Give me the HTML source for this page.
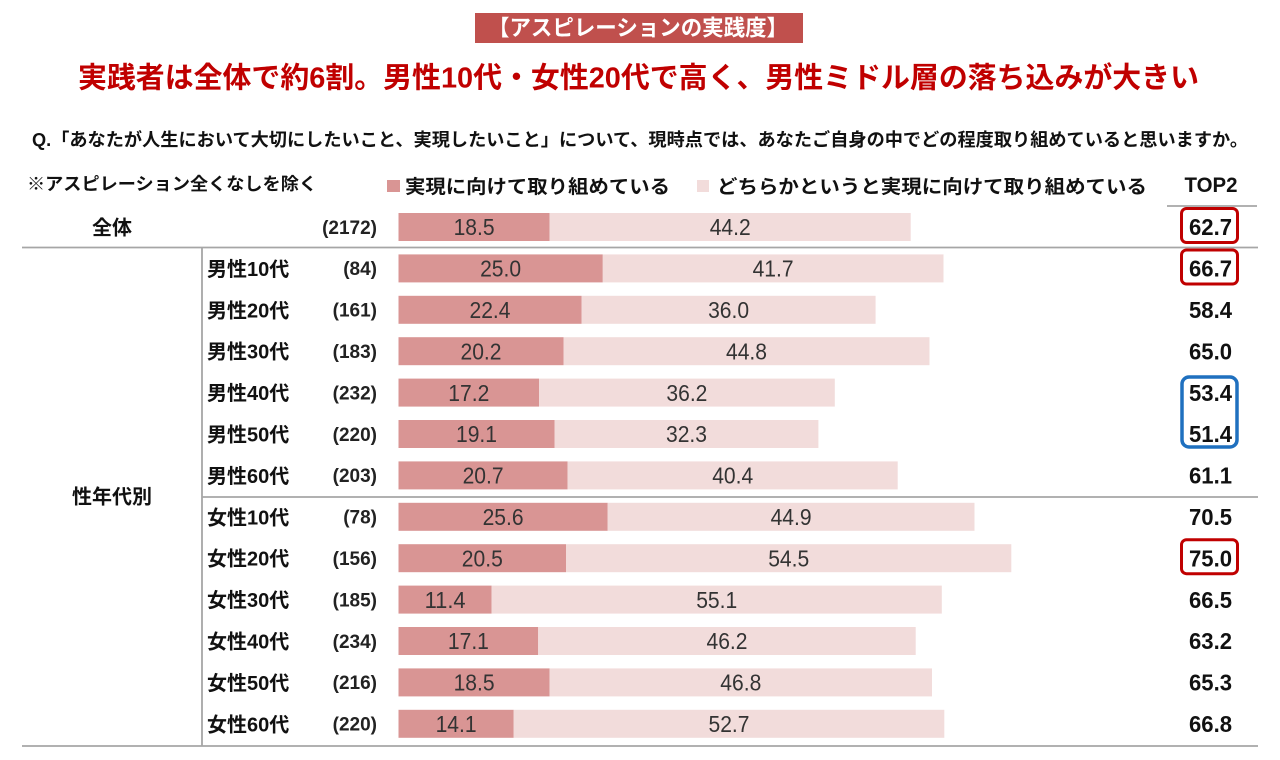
<!DOCTYPE html>
<html><head><meta charset="utf-8">
<style>
html,body{margin:0;padding:0;background:#fff;}
svg{display:block;}
text{font-family:"Liberation Sans","Noto Sans CJK JP",sans-serif;}
.lab{font-size:20px;font-weight:bold;fill:#111;}
.n{font-size:19px;font-weight:bold;fill:#222;text-anchor:end;}
.v{font-size:23px;fill:#333;text-anchor:middle;}
.t{font-size:23px;font-weight:bold;fill:#111;text-anchor:middle;}
.d{fill:#d99594;}
.l{fill:#f2dcdb;}
</style></head>
<body>
<svg width="1280" height="760" viewBox="0 0 1280 760" xmlns="http://www.w3.org/2000/svg">
<rect width="1280" height="760" fill="#fff"/>
<!-- banner -->
<rect x="475" y="13" width="328" height="30" fill="#c0504d"/>
<text x="488" y="35.5" font-size="22" font-weight="bold" fill="#fff" textLength="300" lengthAdjust="spacingAndGlyphs">【アスピレーションの実践度】</text>
<!-- headline -->
<text x="78" y="87.5" font-size="29" font-weight="bold" fill="#c00000" textLength="1121" lengthAdjust="spacingAndGlyphs">実践者は全体で約6割。男性10代・女性20代で高く、男性ミドル層の落ち込みが大きい</text>
<!-- question -->
<text x="32" y="146" font-size="18" font-weight="bold" fill="#111" textLength="1216" lengthAdjust="spacingAndGlyphs">Q.「あなたが人生において大切にしたいこと、実現したいこと」について、現時点では、あなたご自身の中でどの程度取り組めていると思いますか。</text>
<text x="27" y="190" font-size="17.5" font-weight="bold" fill="#111" textLength="290" lengthAdjust="spacingAndGlyphs">※アスピレーション全くなしを除く</text>
<!-- legend -->
<rect x="387" y="180" width="13" height="12" class="d"/>
<text x="405" y="193" font-size="19" font-weight="bold" fill="#111" textLength="265" lengthAdjust="spacingAndGlyphs">実現に向けて取り組めている</text>
<rect x="697" y="180" width="12" height="12" class="l"/>
<text x="717" y="193" font-size="19" font-weight="bold" fill="#111" textLength="430" lengthAdjust="spacingAndGlyphs">どちらかというと実現に向けて取り組めている</text>
<text x="1211" y="192" font-size="21" font-weight="bold" fill="#111" text-anchor="middle" textLength="53" lengthAdjust="spacingAndGlyphs">TOP2</text>
<!-- lines -->
<g stroke="#a6a6a6" stroke-width="1.8">
<line x1="1167" y1="206" x2="1257" y2="206"/>
<line x1="22" y1="247.5" x2="1258" y2="247.5"/>
<line x1="202" y1="497" x2="1258" y2="497"/>
<line x1="22" y1="746" x2="1258" y2="746"/>
<line x1="202" y1="247.5" x2="202" y2="746"/>
</g>
<!-- row labels -->
<text x="112" y="234.5" class="lab" text-anchor="middle">全体</text>
<text x="112" y="503.5" class="lab" text-anchor="middle">性年代別</text>

<text x="207" y="275.9" class="lab">男性10代</text>
<text x="207" y="317.3" class="lab">男性20代</text>
<text x="207" y="358.7" class="lab">男性30代</text>
<text x="207" y="400.1" class="lab">男性40代</text>
<text x="207" y="441.5" class="lab">男性50代</text>
<text x="207" y="482.9" class="lab">男性60代</text>
<text x="207" y="524.3" class="lab">女性10代</text>
<text x="207" y="565.7" class="lab">女性20代</text>
<text x="207" y="607.1" class="lab">女性30代</text>
<text x="207" y="648.5" class="lab">女性40代</text>
<text x="207" y="689.9" class="lab">女性50代</text>
<text x="207" y="731.3" class="lab">女性60代</text>

<text x="377" y="233.8" class="n">(2172)</text>
<text x="377" y="275.2" class="n">(84)</text>
<text x="377" y="316.6" class="n">(161)</text>
<text x="377" y="358.0" class="n">(183)</text>
<text x="377" y="399.4" class="n">(232)</text>
<text x="377" y="440.8" class="n">(220)</text>
<text x="377" y="482.2" class="n">(203)</text>
<text x="377" y="523.6" class="n">(78)</text>
<text x="377" y="565.0" class="n">(156)</text>
<text x="377" y="606.4" class="n">(185)</text>
<text x="377" y="647.8" class="n">(234)</text>
<text x="377" y="689.2" class="n">(216)</text>
<text x="377" y="730.6" class="n">(220)</text>

<!-- bars -->
<g>
<rect x="398.5" y="213" width="151.1" height="28" class="d"/><rect x="549.6" y="213" width="361.1" height="28" class="l"/>
<rect x="398.5" y="254.4" width="204.3" height="28" class="d"/><rect x="602.8" y="254.4" width="340.7" height="28" class="l"/>
<rect x="398.5" y="295.8" width="183.0" height="28" class="d"/><rect x="581.5" y="295.8" width="294.1" height="28" class="l"/>
<rect x="398.5" y="337.2" width="165.0" height="28" class="d"/><rect x="563.5" y="337.2" width="366.0" height="28" class="l"/>
<rect x="398.5" y="378.6" width="140.5" height="28" class="d"/><rect x="539.0" y="378.6" width="295.8" height="28" class="l"/>
<rect x="398.5" y="420.0" width="156.0" height="28" class="d"/><rect x="554.5" y="420.0" width="263.9" height="28" class="l"/>
<rect x="398.5" y="461.4" width="169.1" height="28" class="d"/><rect x="567.6" y="461.4" width="330.1" height="28" class="l"/>
<rect x="398.5" y="502.8" width="209.2" height="28" class="d"/><rect x="607.7" y="502.8" width="366.8" height="28" class="l"/>
<rect x="398.5" y="544.2" width="167.5" height="28" class="d"/><rect x="566.0" y="544.2" width="445.3" height="28" class="l"/>
<rect x="398.5" y="585.6" width="93.1" height="28" class="d"/><rect x="491.6" y="585.6" width="450.2" height="28" class="l"/>
<rect x="398.5" y="627.0" width="139.7" height="28" class="d"/><rect x="538.2" y="627.0" width="377.5" height="28" class="l"/>
<rect x="398.5" y="668.4" width="151.1" height="28" class="d"/><rect x="549.6" y="668.4" width="382.4" height="28" class="l"/>
<rect x="398.5" y="709.8" width="115.2" height="28" class="d"/><rect x="513.7" y="709.8" width="430.6" height="28" class="l"/>
</g>
<!-- bar values -->
<g>
<text x="474.1" y="235.2" class="v" textLength="41" lengthAdjust="spacingAndGlyphs">18.5</text><text x="730.2" y="235.2" class="v" textLength="41" lengthAdjust="spacingAndGlyphs">44.2</text>
<text x="500.6" y="276.6" class="v" textLength="41" lengthAdjust="spacingAndGlyphs">25.0</text><text x="773.1" y="276.6" class="v" textLength="41" lengthAdjust="spacingAndGlyphs">41.7</text>
<text x="490.0" y="318.0" class="v" textLength="41" lengthAdjust="spacingAndGlyphs">22.4</text><text x="728.6" y="318.0" class="v" textLength="41" lengthAdjust="spacingAndGlyphs">36.0</text>
<text x="481.0" y="359.4" class="v" textLength="41" lengthAdjust="spacingAndGlyphs">20.2</text><text x="746.5" y="359.4" class="v" textLength="41" lengthAdjust="spacingAndGlyphs">44.8</text>
<text x="468.8" y="400.8" class="v" textLength="41" lengthAdjust="spacingAndGlyphs">17.2</text><text x="686.9" y="400.8" class="v" textLength="41" lengthAdjust="spacingAndGlyphs">36.2</text>
<text x="476.5" y="442.2" class="v" textLength="41" lengthAdjust="spacingAndGlyphs">19.1</text><text x="686.5" y="442.2" class="v" textLength="41" lengthAdjust="spacingAndGlyphs">32.3</text>
<text x="483.1" y="483.6" class="v" textLength="41" lengthAdjust="spacingAndGlyphs">20.7</text><text x="732.7" y="483.6" class="v" textLength="41" lengthAdjust="spacingAndGlyphs">40.4</text>
<text x="503.1" y="525.0" class="v" textLength="41" lengthAdjust="spacingAndGlyphs">25.6</text><text x="791.1" y="525.0" class="v" textLength="41" lengthAdjust="spacingAndGlyphs">44.9</text>
<text x="482.3" y="566.4" class="v" textLength="41" lengthAdjust="spacingAndGlyphs">20.5</text><text x="788.7" y="566.4" class="v" textLength="41" lengthAdjust="spacingAndGlyphs">54.5</text>
<text x="445.1" y="607.8" class="v" textLength="41" lengthAdjust="spacingAndGlyphs">11.4</text><text x="716.7" y="607.8" class="v" textLength="41" lengthAdjust="spacingAndGlyphs">55.1</text>
<text x="468.4" y="649.2" class="v" textLength="41" lengthAdjust="spacingAndGlyphs">17.1</text><text x="727.0" y="649.2" class="v" textLength="41" lengthAdjust="spacingAndGlyphs">46.2</text>
<text x="474.1" y="690.6" class="v" textLength="41" lengthAdjust="spacingAndGlyphs">18.5</text><text x="740.8" y="690.6" class="v" textLength="41" lengthAdjust="spacingAndGlyphs">46.8</text>
<text x="456.1" y="732.0" class="v" textLength="41" lengthAdjust="spacingAndGlyphs">14.1</text><text x="729.0" y="732.0" class="v" textLength="41" lengthAdjust="spacingAndGlyphs">52.7</text>
</g>
<!-- TOP2 values -->
<g>
<text x="1210.5" y="235.2" class="t" textLength="43" lengthAdjust="spacingAndGlyphs">62.7</text>
<text x="1210.5" y="276.6" class="t" textLength="43" lengthAdjust="spacingAndGlyphs">66.7</text>
<text x="1210.5" y="318.0" class="t" textLength="43" lengthAdjust="spacingAndGlyphs">58.4</text>
<text x="1210.5" y="359.4" class="t" textLength="43" lengthAdjust="spacingAndGlyphs">65.0</text>
<text x="1210.5" y="400.8" class="t" textLength="43" lengthAdjust="spacingAndGlyphs">53.4</text>
<text x="1210.5" y="442.2" class="t" textLength="43" lengthAdjust="spacingAndGlyphs">51.4</text>
<text x="1210.5" y="483.6" class="t" textLength="43" lengthAdjust="spacingAndGlyphs">61.1</text>
<text x="1210.5" y="525.0" class="t" textLength="43" lengthAdjust="spacingAndGlyphs">70.5</text>
<text x="1210.5" y="566.4" class="t" textLength="43" lengthAdjust="spacingAndGlyphs">75.0</text>
<text x="1210.5" y="607.8" class="t" textLength="43" lengthAdjust="spacingAndGlyphs">66.5</text>
<text x="1210.5" y="649.2" class="t" textLength="43" lengthAdjust="spacingAndGlyphs">63.2</text>
<text x="1210.5" y="690.6" class="t" textLength="43" lengthAdjust="spacingAndGlyphs">65.3</text>
<text x="1210.5" y="732.0" class="t" textLength="43" lengthAdjust="spacingAndGlyphs">66.8</text>
</g>
<!-- highlight boxes -->
<g fill="none" stroke-width="3">
<rect x="1181.5" y="208.5" width="56" height="34" rx="5" stroke="#c00000"/>
<rect x="1181.5" y="250" width="56" height="34" rx="5" stroke="#c00000"/>
<rect x="1181.5" y="539.7" width="56" height="34" rx="5" stroke="#c00000"/>
<rect x="1182" y="377" width="55" height="70" rx="7" stroke="#1f70bf" stroke-width="3.5"/>
</g>
</svg>
</body></html>
